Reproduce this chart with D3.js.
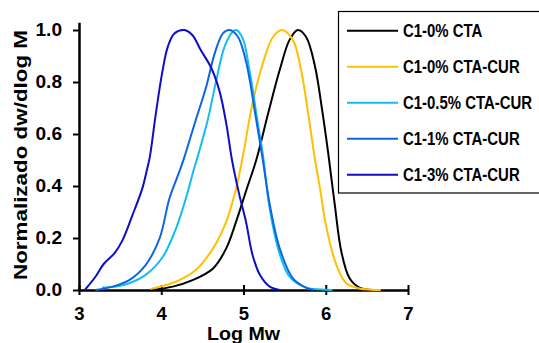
<!DOCTYPE html>
<html>
<head>
<meta charset="utf-8">
<script src="https://cdn.jsdelivr.net/npm/d3@7"></script>
<style>
  body { margin: 0; background: #fff; }
  text { font-family: "Liberation Sans", Arial, sans-serif; font-weight: bold; fill: #000; }
</style>
</head>
<body>
<div id="chart"></div>
<script>
// series: [log Mw, normalised dw/dlog M]
var c1_0_cta = [[3.88,0],[4.14,0.013],[4.38,0.038],[4.63,0.083],[4.79,0.16],[4.91,0.263],[5.03,0.38],[5.155,0.5],[5.30,0.68],[5.44,0.846],[5.56,0.962],[5.66,1.0],[5.76,0.974],[5.87,0.859],[5.95,0.705],[6.03,0.526],[6.11,0.327],[6.19,0.147],[6.29,0.045],[6.41,0.009],[6.57,0]];
var c1_0_cur = [[3.87,0.004],[4.06,0.019],[4.22,0.038],[4.42,0.077],[4.63,0.16],[4.79,0.263],[4.91,0.391],[4.99,0.51],[5.11,0.718],[5.235,0.872],[5.36,0.974],[5.47,1.0],[5.60,0.962],[5.70,0.846],[5.78,0.692],[5.87,0.5],[5.93,0.391],[6.01,0.237],[6.13,0.096],[6.25,0.026],[6.41,0.006],[6.67,0]];
var c1_05_cur = [[3.28,0.01],[3.45,0.013],[3.61,0.026],[3.81,0.058],[4.02,0.128],[4.18,0.237],[4.30,0.353],[4.40,0.468],[4.44,0.51],[4.565,0.654],[4.67,0.808],[4.77,0.936],[4.87,0.994],[4.91,1.0],[4.99,0.968],[5.07,0.85],[5.175,0.64],[5.24,0.51],[5.31,0.33],[5.42,0.16],[5.56,0.051],[5.76,0.009],[5.95,0.002],[6.08,0]];
var c1_1_cur = [[3.20,0],[3.41,0.013],[3.61,0.038],[3.81,0.096],[3.98,0.199],[4.10,0.353],[4.22,0.455],[4.28,0.51],[4.42,0.654],[4.545,0.78],[4.65,0.91],[4.75,0.987],[4.83,1.0],[4.93,0.975],[5.03,0.88],[5.155,0.654],[5.235,0.5],[5.32,0.327],[5.44,0.16],[5.60,0.045],[5.76,0.009],[5.85,0]];
var c1_3_cur = [[3.07,0],[3.20,0.051],[3.30,0.10],[3.43,0.141],[3.53,0.192],[3.65,0.288],[3.77,0.391],[3.83,0.468],[3.86,0.51],[3.935,0.68],[4.01,0.833],[4.08,0.936],[4.16,0.987],[4.28,1.0],[4.38,0.98],[4.48,0.923],[4.61,0.853],[4.71,0.763],[4.79,0.641],[4.86,0.50],[4.95,0.365],[5.03,0.263],[5.11,0.135],[5.20,0.058],[5.32,0.013],[5.44,0]];

var seriesNames = ["C1-0% CTA", "C1-0% CTA-CUR", "C1-0.5% CTA-CUR", "C1-1% CTA-CUR", "C1-3% CTA-CUR"];
var seriesData = [c1_0_cta, c1_0_cur, c1_05_cur, c1_1_cur, c1_3_cur];
var colors = ["#000000", "#FFC000", "#12BDF2", "#0C66E4", "#0E0EC4"];

var xTicks = [3, 4, 5, 6, 7];
var yTicks = [0, 0.2, 0.4, 0.6, 0.8, 1.0];

var width = 539, height = 343;

var svg = d3.select("#chart")
  .append("svg")
    .attr("width", width)
    .attr("height", height);

var x = d3.scaleLinear().domain([3, 7]).range([79, 408]);
var y = d3.scaleLinear().domain([0, 1.03]).range([290, 22.2]);

// stretch a text to k times its natural width
function stretch(sel, k) {
  sel.each(function() {
    var w = this.getComputedTextLength();
    d3.select(this).attr("textLength", w * k).attr("lengthAdjust", "spacingAndGlyphs");
  });
}

// X axis
var gx = svg.append("g")
  .attr("transform", "translate(0,290)")
  .call(d3.axisBottom(x).tickValues(xTicks).tickFormat(d3.format("d")).tickSize(5).tickSizeOuter(0).tickPadding(12));
gx.select(".domain").attr("stroke-width", 2.5);
gx.selectAll(".tick line").attr("y1", -5).attr("stroke-width", 2);
gx.selectAll(".tick text").style("font-size", "18.5px").style("font-family", "Liberation Sans, Arial").style("font-weight", "bold");

// Y axis
var gy = svg.append("g")
  .attr("transform", "translate(79,0)")
  .call(d3.axisLeft(y).tickValues(yTicks).tickFormat(d3.format(".1f")).tickSize(6).tickSizeOuter(0).tickPadding(11));
gy.select(".domain").attr("stroke-width", 2.5);
gy.selectAll(".tick line").attr("stroke-width", 2);
gy.selectAll(".tick text").style("font-size", "18px").style("font-family", "Liberation Sans, Arial").style("font-weight", "bold");
stretch(gy.selectAll(".tick text"), 1.06);

// curves
var line = d3.line()
  .x(function(d) { return x(d[0]); })
  .y(function(d) { return y(d[1]); })
  .curve(d3.curveCatmullRom.alpha(0.5));

svg.append("g")
  .selectAll("path")
  .data(seriesData)
  .enter()
  .append("path")
    .attr("d", line)
    .attr("fill", "none")
    .attr("stroke", function(d, i) { return colors[i]; })
    .attr("stroke-width", 2);

// axis titles
var ty = svg.append("text")
  .attr("transform", "translate(27,155) rotate(-90)")
  .attr("text-anchor", "middle")
  .style("font-size", "18px")
  .text("Normalizado dw/dlog M");
ty.attr("textLength", 250).attr("lengthAdjust", "spacingAndGlyphs");

svg.append("text")
  .attr("x", x(5))
  .attr("y", 340)
  .attr("text-anchor", "middle")
  .style("font-size", "18px")
  .attr("textLength", 73)
  .attr("lengthAdjust", "spacingAndGlyphs")
  .text("Log Mw");

// legend
var legend = svg.append("g");
legend.append("rect")
  .attr("x", 338.5).attr("y", 11.5)
  .attr("width", 215).attr("height", 181.5)
  .attr("fill", "#fff")
  .attr("stroke", "#000")
  .attr("stroke-width", 1.2);

var rows = legend.selectAll(".row")
  .data(seriesNames)
  .enter()
  .append("g")
    .attr("class", "row")
    .attr("transform", function(d, i) { return "translate(0," + (30.7 + i * 36) + ")"; });

rows.append("line")
  .attr("x1", 347).attr("x2", 398)
  .attr("stroke", function(d, i) { return colors[i]; })
  .attr("stroke-width", 2);

// legend labels are drawn narrow, as in the original
var squeeze = 0.83;
rows.append("text")
  .attr("transform", "translate(403,6.5) scale(" + squeeze + ",1)")
  .style("font-size", "18px")
  .text(function(d) { return d; });
</script>
</body>
</html>
